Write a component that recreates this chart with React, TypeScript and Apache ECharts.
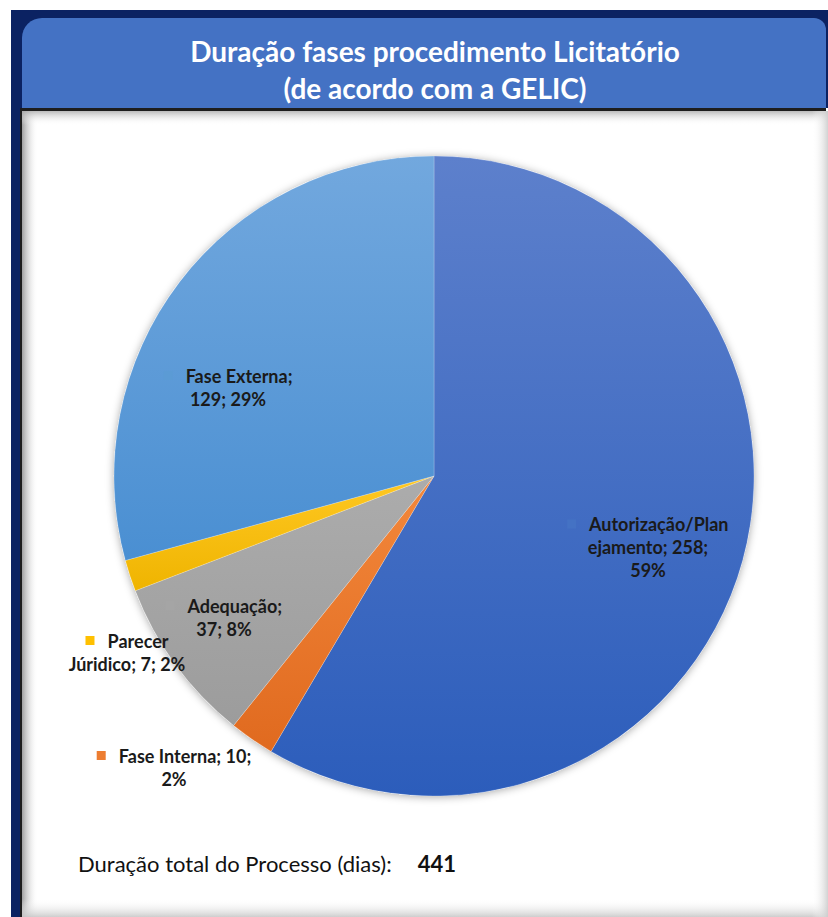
import React, { useEffect, useRef } from "react";
import * as echarts from "echarts";

const categories = [
  "Autorização/Planejamento",
  "Fase Interna",
  "Adequação",
  "Parecer Júridico",
  "Fase Externa",
];
const values = [258, 10, 37, 7, 129];
// label text as wrapped in the reference ({v} value, {p} percent)
const labelTemplates = [
  "Autorização/Plan\nejamento; {v};\n{p}%",
  "Fase Interna; {v};\n{p}%",
  "Adequação;\n{v}; {p}%",
  "Parecer\nJúridico; {v}; {p}%",
  "Fase Externa;\n{v}; {p}%",
];
const titleText = "Duração fases procedimento Licitatório\n(de acordo com a GELIC)";
const totalCaption = "Duração total do Processo (dias):";

const baseColors = ["#4472c4", "#ed7d31", "#a5a5a5", "#ffc000", "#5b9bd5"];
const gradTop = ["#5d80cc", "#f3883c", "#acacac", "#ffc823", "#72a8de"];
const gradBottom = ["#2c5dbb", "#e06a1f", "#9c9c9c", "#efb400", "#4a8fd2"];
const labelPos = [
  [648, 547],
  [174, 767],
  [224, 617],
  [127, 652],
  [228, 387],
];

const FONT = "Lato, sans-serif";

export default function App() {
  const ref = useRef<HTMLDivElement>(null);
  useEffect(() => {
    document.body.style.margin = "0";
    const chart = echarts.init(ref.current!, null, { renderer: "svg" });
    const total = values.reduce((a, b) => a + b, 0);
    const rich: any = {};
    baseColors.forEach((c, i) => {
      rich["k" + i] = { width: 9, height: 9, backgroundColor: c };
    });
    const option: any = {
      animation: false,
      backgroundColor: "#ffffff",
      title: [
        {
          text: titleText,
          left: 430,
          top: 27,
          textAlign: "center",
          textStyle: {
            color: "#ffffff",
            fontSize: 28,
            fontWeight: "bold",
            fontFamily: FONT,
            lineHeight: 37,
          },
        },
        {
          text: `{a|${totalCaption}}{b|${total}}`,
          left: 73,
          top: 847,
          textStyle: {
            rich: {
              a: { fontSize: 22, color: "#111111", fontFamily: FONT, fontWeight: "normal" },
              b: { fontSize: 22, color: "#111111", fontFamily: FONT, fontWeight: "bold", padding: [0, 0, 0, 26] },
            },
          },
        },
      ],
      graphic: [
        { type: "rect", z: -10, shape: { x: 11, y: 10, width: 817, height: 907 }, style: { fill: "#0b2262" } },
        { type: "rect", z: -9, shape: { x: 22, y: 18, width: 804, height: 92, r: [20, 12, 0, 0] }, style: { fill: "#4472c4" } },
        { type: "rect", z: -9, shape: { x: 20, y: 108, width: 808, height: 809 }, style: { fill: "#ffffff" } },
        { type: "rect", z: -8, shape: { x: 20, y: 108, width: 806, height: 3 }, style: { fill: "#1e1e1e" } },
        { type: "rect", z: -8, shape: { x: 20, y: 108, width: 2, height: 809 }, style: { fill: "#1e1e1e" } },
        {
          type: "rect",
          z: -7,
          shape: { x: 22, y: 111, width: 16, height: 806 },
          style: {
            fill: new echarts.graphic.LinearGradient(0, 0, 1, 0, [
              { offset: 0, color: "rgba(150,150,150,0.9)" },
              { offset: 1, color: "rgba(255,255,255,0)" },
            ]),
          },
        },
        {
          type: "rect",
          z: -7,
          shape: { x: 22, y: 111, width: 806, height: 14 },
          style: {
            fill: new echarts.graphic.LinearGradient(0, 0, 0, 1, [
              { offset: 0, color: "rgba(170,170,170,0.8)" },
              { offset: 1, color: "rgba(255,255,255,0)" },
            ]),
          },
        },
        {
          type: "rect",
          z: -7,
          shape: { x: 22, y: 899, width: 806, height: 18 },
          style: {
            fill: new echarts.graphic.LinearGradient(0, 0, 0, 1, [
              { offset: 0, color: "rgba(255,255,255,0)" },
              { offset: 1, color: "rgba(200,200,200,0.9)" },
            ]),
          },
        },
        {
          type: "rect",
          z: -7,
          shape: { x: 812, y: 111, width: 16, height: 806 },
          style: {
            fill: new echarts.graphic.LinearGradient(0, 0, 1, 0, [
              { offset: 0, color: "rgba(255,255,255,0)" },
              { offset: 1, color: "rgba(205,205,205,0.9)" },
            ]),
          },
        },
      ],
      series: [
        {
          type: "pie",
          silent: true,
          z: 1,
          center: [434, 476],
          radius: 320,
          label: { show: false },
          labelLine: { show: false },
          itemStyle: { color: "#ffffff", shadowBlur: 8, shadowColor: "rgba(0,0,0,0.35)", shadowOffsetY: 1 },
          data: [{ value: 1, name: "" }],
        },
        {
          type: "pie",
          z: 2,
          center: [434, 476],
          radius: 320,
          startAngle: 90,
          clockwise: true,
          avoidLabelOverlap: false,
          data: categories.map((name, i) => ({
            name,
            value: values[i],
            itemStyle: {
              color: new echarts.graphic.LinearGradient(0, 0, 0, 1, [
                { offset: 0, color: gradTop[i] },
                { offset: 1, color: gradBottom[i] },
              ]),
              borderColor: "rgba(255,255,255,0.35)",
              borderWidth: 0.6,
            },
          })),
          label: {
            show: true,
            position: "inside",
            color: "#1a1a1a",
            fontSize: 18,
            fontWeight: "bold",
            fontFamily: FONT,
            lineHeight: 23,
            align: "center",
            rich,
            formatter: (p: any) => {
              const i = p.dataIndex;
              const pct = Math.round((p.value / total) * 100);
              const txt = labelTemplates[i].replace("{v}", String(p.value)).replace("{p}", String(pct));
              return `{k${i}|}   ` + txt;
            },
          },
          labelLine: { show: false },
          labelLayout: (params: any) => ({
            x: labelPos[params.dataIndex][0],
            y: labelPos[params.dataIndex][1],
            align: "center",
            verticalAlign: "middle",
          }),
        },
      ],
    };
    chart.setOption(option);
    return () => chart.dispose();
  }, []);
  return (
    <div
      ref={ref}
      style={{ position: "fixed", left: 0, top: 0, width: 828, height: 917 }}
    />
  );
}
